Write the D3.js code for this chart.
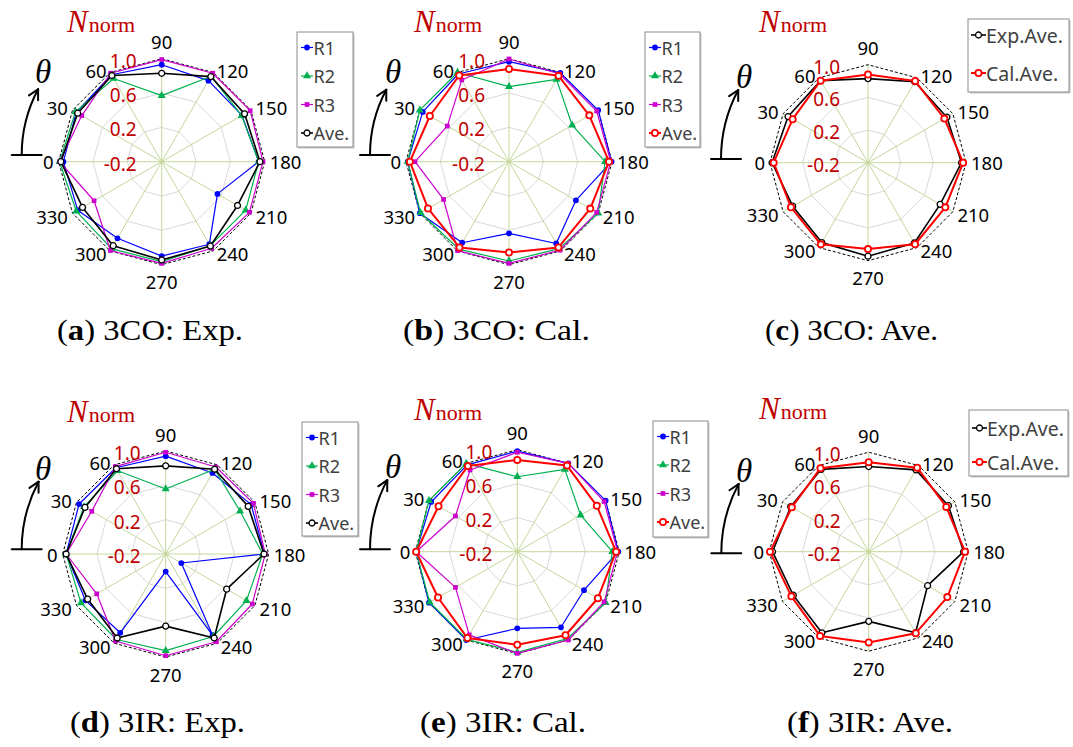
<!DOCTYPE html>
<html>
<head>
<meta charset="utf-8">
<script src="https://cdn.jsdelivr.net/npm/d3@7"></script>
<style>
  body { margin: 0; background: #fff; }
  svg { display: block; }
</style>
</head>
<body>
<svg id="fig" width="1073" height="747"></svg>
<script>
// Measurement angles (degrees) and radial axis
const angles = [0, 30, 60, 90, 120, 150, 180, 210, 240, 270, 300, 330];
const radialTicks = [-0.2, 0.2, 0.6, 1.0];
const tickLabels = ["-0.2", "0.2", "0.6", "1.0"];

// 3CO, experiment
const coExpR1  = [0.945, 0.95, 0.97, 0.93, 0.89, 0.88, 0.93, 0.55, 0.91, 0.90, 0.83, 0.93];
const coExpR2  = [0.99, 0.96, 0.92, 0.57, 0.95, 0.875, 0.93, 0.93, 0.93, 0.965, 0.97, 0.95];
const coExpR3  = [0.99, 0.875, 0.99, 0.99, 0.99, 0.99, 0.98, 0.98, 0.965, 0.985, 0.995, 0.71];
const coExpAve = [0.975, 0.93, 0.96, 0.83, 0.945, 0.915, 0.945, 0.82, 0.935, 0.945, 0.93, 0.865];

// 3CO, calculation
const coCalR1  = [0.98, 0.96, 0.98, 0.965, 0.995, 1.0, 0.995, 0.70, 0.90, 0.635, 0.89, 1.0];
const coCalR2  = [0.98, 1.0, 1.0, 0.674, 0.907, 0.65, 0.92, 1.0, 0.97, 0.957, 0.975, 0.99];
const coCalR3  = [0.895, 0.63, 0.90, 0.997, 0.98, 0.98, 0.985, 0.98, 0.99, 0.985, 0.997, 0.68];
const coCalAve = [0.955, 0.865, 0.96, 0.88, 0.955, 0.88, 0.965, 0.893, 0.953, 0.858, 0.954, 0.89];

// 3IR, experiment
const irExpR1  = [0.96, 0.965, 0.96, 0.94, 0.89, 0.95, 0.95, 0.01, 0.89, 0.005, 0.86, 0.88];
const irExpR2  = [0.96, 0.90, 0.92, 0.557, 0.94, 0.80, 0.93, 0.887, 0.91, 0.926, 0.95, 0.94];
const irExpR3  = [0.96, 0.795, 0.975, 0.985, 0.97, 0.98, 0.96, 0.965, 0.98, 0.985, 0.97, 0.728];
const irExpAve = [0.96, 0.886, 0.947, 0.827, 0.94, 0.91, 0.945, 0.62, 0.93, 0.64, 0.93, 0.85];

// 3IR, calculation
const irCalR1  = [0.99, 0.97, 0.98, 0.984, 1.0, 1.0, 0.988, 0.706, 0.827, 0.702, 1.0, 1.0];
const irCalR2  = [0.99, 1.0, 1.0, 0.682, 0.918, 0.66, 0.918, 1.0, 0.98, 0.984, 0.99, 0.99];
const irCalR3  = [0.99, 0.64, 0.91, 0.97, 1.0, 0.98, 0.98, 0.98, 1.0, 0.996, 0.93, 0.64];
const irCalAve = [0.99, 0.87, 0.963, 0.88, 0.97, 0.88, 0.962, 0.895, 0.935, 0.894, 0.973, 0.877];

// Series styles
const styles = {
  R1:  { color: "#0000ff", symbol: d3.symbolCircle,   size: 26, filled: true,  width: 1.2, mw: 0 },
  R2:  { color: "#00b050", symbol: d3.symbolTriangle, size: 28, filled: true,  width: 1.2, mw: 0 },
  R3:  { color: "#cc00cc", symbol: d3.symbolSquare,   size: 22, filled: true,  width: 1.2, mw: 0 },
  exp: { color: "#000000", symbol: d3.symbolCircle,   size: 28, filled: false, width: 1.6, mw: 1.3 },
  cal: { color: "#ff0000", symbol: d3.symbolCircle,   size: 30, filled: false, width: 2.0, mw: 1.8 }
};

const panels = [
  { letter: "a", rest: " 3CO: Exp.", cx: 161.7, cy: 161.7, R: 103, tickDx: 25,
    series: [["R1", coExpR1, "R1"], ["R2", coExpR2, "R2"], ["R3", coExpR3, "R3"], ["Ave.", coExpAve, "exp"]],
    legend: { x: 297, y: 32, w: 56, h: 115, first: 15.5, step: 28.5, fs: 18 },
    title: { x: 67, y: 32 }, theta: { x: 35, y: 83 }, arrow: { x0: 21.7, y: 155 },
    caption: { x: 57, y: 340, w: 186 } },
  { letter: "b", rest: " 3CO: Cal.", cx: 509, cy: 161.7, R: 103, tickDx: 24,
    series: [["R1", coCalR1, "R1"], ["R2", coCalR2, "R2"], ["R3", coCalR3, "R3"], ["Ave.", coCalAve, "cal"]],
    legend: { x: 645, y: 32, w: 55, h: 115, first: 15.5, step: 28.5, fs: 18 },
    title: { x: 414, y: 32 }, theta: { x: 385, y: 83 }, arrow: { x0: 370, y: 155 },
    caption: { x: 403, y: 340, w: 187 } },
  { letter: "c", rest: " 3CO: Ave.", cx: 868, cy: 162.7, R: 98, tickDx: 28,
    series: [["Exp.Ave.", coExpAve, "exp"], ["Cal.Ave.", coCalAve, "cal"]],
    legend: { x: 968, y: 19, w: 101, h: 73, first: 16, step: 38, fs: 19.5 },
    title: { x: 759, y: 32 }, theta: { x: 736, y: 88 }, arrow: { x0: 721, y: 159 },
    caption: { x: 765, y: 340, w: 173 } },
  { letter: "d", rest: " 3IR: Exp.", cx: 165.7, cy: 554, R: 103, tickDx: 25,
    series: [["R1", irExpR1, "R1"], ["R2", irExpR2, "R2"], ["R3", irExpR3, "R3"], ["Ave.", irExpAve, "exp"]],
    legend: { x: 302, y: 422, w: 56, h: 114, first: 15.5, step: 28.5, fs: 18 },
    title: { x: 67, y: 422 }, theta: { x: 35, y: 480 }, arrow: { x0: 21.7, y: 549.3 },
    caption: { x: 70, y: 732, w: 175 } },
  { letter: "e", rest: " 3IR: Cal.", cx: 517.3, cy: 551.7, R: 102, tickDx: 25,
    series: [["R1", irCalR1, "R1"], ["R2", irCalR2, "R2"], ["R3", irCalR3, "R3"], ["Ave.", irCalAve, "cal"]],
    legend: { x: 653, y: 421, w: 55, h: 116, first: 15.5, step: 28.5, fs: 18 },
    title: { x: 414, y: 420 }, theta: { x: 385, y: 478 }, arrow: { x0: 370, y: 549.3 },
    caption: { x: 420, y: 732, w: 166 } },
  { letter: "f", rest: " 3IR: Ave.", cx: 868.7, cy: 551.7, R: 99.5, tickDx: 28,
    series: [["Exp.Ave.", irExpAve, "exp"], ["Cal.Ave.", irCalAve, "cal"]],
    legend: { x: 969, y: 410, w: 99, h: 66, first: 18, step: 34, fs: 19.5 },
    title: { x: 759, y: 419 }, theta: { x: 736, y: 482 }, arrow: { x0: 721.3, y: 553.3 },
    caption: { x: 787, y: 732, w: 166 } }
];

const svg = d3.select("#fig");
const SANS = "'Noto Sans', 'Liberation Sans', sans-serif";
const SERIF = "'Liberation Serif', 'DejaVu Serif', serif";
const DARKRED = "#c00000";

// Radar angle: 0 deg on the left, increasing clockwise (90 at top)
const rad = t => (t - 90) * Math.PI / 180;

function drawPanel(p) {
  const r = d3.scaleLinear().domain([radialTicks[0], radialTicks[radialTicks.length - 1]]).range([0, p.R]);
  const g = svg.append("g");
  const cg = g.append("g").attr("transform", `translate(${p.cx},${p.cy})`);

  const ring = v => d3.lineRadial()
    .angle(t => rad(t)).radius(() => r(v))
    .curve(d3.curveLinearClosed)(angles);

  // inner gridlines
  radialTicks.slice(1, -1).forEach(v => {
    cg.append("path").attr("d", ring(v))
      .attr("fill", "none").attr("stroke", "#d9d9d9").attr("stroke-width", 1);
  });

  // spokes
  cg.selectAll("line.spoke").data(angles).join("line")
    .attr("class", "spoke")
    .attr("x1", 0).attr("y1", 0)
    .attr("x2", t => d3.pointRadial(rad(t), r(1.0))[0])
    .attr("y2", t => d3.pointRadial(rad(t), r(1.0))[1])
    .attr("stroke", "#c4d79b").attr("stroke-width", 1);

  // outer dashed gridline
  cg.append("path").attr("d", ring(1.0))
    .attr("fill", "none").attr("stroke", "#000").attr("stroke-width", 1)
    .attr("stroke-dasharray", "3,2");

  // radial axis labels
  cg.selectAll("text.tick").data(radialTicks).join("text")
    .attr("class", "tick")
    .attr("x", -p.tickDx)
    .attr("y", v => -r(v) + 2)
    .attr("text-anchor", "end")
    .attr("dominant-baseline", "central")
    .attr("font-family", SANS).attr("font-size", 19)
    .attr("fill", DARKRED)
    .text((v, i) => tickLabels[i]);

  // series
  p.series.forEach(([name, vals, key]) => {
    const st = styles[key];
    const pts = angles.map((t, i) => ({ t, v: vals[i] }));
    cg.append("path")
      .attr("d", d3.lineRadial().angle(d => rad(d.t)).radius(d => r(d.v)).curve(d3.curveLinearClosed)(pts))
      .attr("fill", "none").attr("stroke", st.color).attr("stroke-width", st.width)
      .attr("stroke-linejoin", "round");
    cg.append("g").selectAll("path").data(pts).join("path")
      .attr("transform", d => `translate(${d3.pointRadial(rad(d.t), r(d.v))})`)
      .attr("d", d3.symbol(st.symbol, st.size))
      .attr("fill", st.filled ? st.color : "#fff")
      .attr("stroke", st.filled ? "none" : st.color)
      .attr("stroke-width", st.mw);
  });

  // angle labels
  cg.selectAll("text.ang").data(angles).join("text")
    .attr("class", "ang")
    .each(function (t) {
      const [vx, vy] = d3.pointRadial(rad(t), p.R);
      const el = d3.select(this);
      const off = 2 + 3 * Math.abs(Math.cos(t * Math.PI / 180));
      if (t === 90) {
        el.attr("x", vx).attr("y", vy - 17).attr("text-anchor", "middle");
      } else if (t === 270) {
        el.attr("x", vx).attr("y", vy + 17).attr("text-anchor", "middle");
      } else if (t > 90 && t < 270) {
        el.attr("x", vx + off).attr("y", vy + (vy < -1 ? -2.5 : vy > 1 ? 3 : 0)).attr("text-anchor", "start");
      } else {
        el.attr("x", vx - off).attr("y", vy + (vy < -1 ? -2.5 : vy > 1 ? 3 : 0)).attr("text-anchor", "end");
      }
    })
    .attr("dominant-baseline", "central")
    .attr("font-family", SANS).attr("font-size", 18.5)
    .attr("fill", "#000")
    .text(t => t);

  // N_norm axis title
  const tt = g.append("text").attr("x", p.title.x).attr("y", p.title.y)
    .attr("font-family", SERIF).attr("fill", DARKRED);
  tt.append("tspan").attr("font-style", "italic").attr("font-size", 31).text("N");
  tt.append("tspan").attr("font-size", 22).attr("dx", 1).text("norm");

  // theta with curved arrow
  g.append("text").attr("x", p.theta.x).attr("y", p.theta.y)
    .attr("font-family", SERIF).attr("font-style", "italic").attr("font-size", 33)
    .attr("fill", "#000").text("θ");

  const ar = p.cx - p.arrow.x0;
  const phi = 28 * Math.PI / 180;
  const tipX = p.cx - ar * Math.cos(phi), tipY = p.arrow.y - ar * Math.sin(phi);
  const ag = g.append("g").attr("fill", "none").attr("stroke", "#000").attr("stroke-width", 2)
    .attr("stroke-linecap", "round");
  ag.append("line")
    .attr("x1", p.arrow.x0 - 10).attr("y1", p.arrow.y)
    .attr("x2", p.arrow.x0 + 20).attr("y2", p.arrow.y);
  const arc = d3.path();
  arc.moveTo(p.arrow.x0, p.arrow.y);
  arc.arc(p.cx, p.arrow.y, ar, Math.PI, Math.PI + phi, false);
  ag.append("path").attr("d", arc.toString());
  const dir = [Math.sin(phi), -Math.cos(phi)];
  [-28, 28].forEach(a => {
    const ca = Math.cos(a * Math.PI / 180), sa = Math.sin(a * Math.PI / 180);
    const bx = -dir[0], by = -dir[1];
    const wx = bx * ca - by * sa, wy = bx * sa + by * ca;
    ag.append("line").attr("x1", tipX).attr("y1", tipY)
      .attr("x2", tipX + 11 * wx).attr("y2", tipY + 11 * wy);
  });

  // legend
  const L = p.legend;
  const lg = g.append("g").attr("transform", `translate(${L.x},${L.y})`);
  lg.append("rect").attr("x", 1.5).attr("y", 1.5).attr("width", L.w).attr("height", L.h).attr("fill", "#c8c8c8");
  lg.append("rect").attr("width", L.w).attr("height", L.h).attr("fill", "#fff")
    .attr("stroke", "#8c8c8c").attr("stroke-width", 1);
  const wide = p.series.length === 2;
  const lx0 = wide ? 3 : 4, lx1 = wide ? 18 : 16, tx = wide ? 18 : 16.5;
  p.series.forEach(([name, vals, key], i) => {
    const st = styles[key];
    const y = L.first + i * L.step;
    lg.append("line").attr("x1", lx0).attr("x2", lx1).attr("y1", y).attr("y2", y)
      .attr("stroke", st.color).attr("stroke-width", st.width);
    lg.append("path").attr("transform", `translate(${(lx0 + lx1) / 2},${y})`)
      .attr("d", d3.symbol(st.symbol, st.size))
      .attr("fill", st.filled ? st.color : "#fff")
      .attr("stroke", st.filled ? "none" : st.color)
      .attr("stroke-width", st.mw);
    lg.append("text").attr("x", tx).attr("y", y)
      .attr("dominant-baseline", "central")
      .attr("font-family", SANS).attr("font-size", L.fs)
      .attr("fill", "#404040").text(name);
  });

  // caption
  const cap = g.append("text").attr("x", p.caption.x).attr("y", p.caption.y)
    .attr("font-family", SERIF).attr("font-size", 30).attr("fill", "#000")
    .attr("textLength", p.caption.w).attr("lengthAdjust", "spacingAndGlyphs");
  cap.append("tspan").text("(");
  cap.append("tspan").attr("font-weight", "bold").text(p.letter);
  cap.append("tspan").text(")" + p.rest);
}

panels.forEach(drawPanel);
</script>
</body>
</html>
